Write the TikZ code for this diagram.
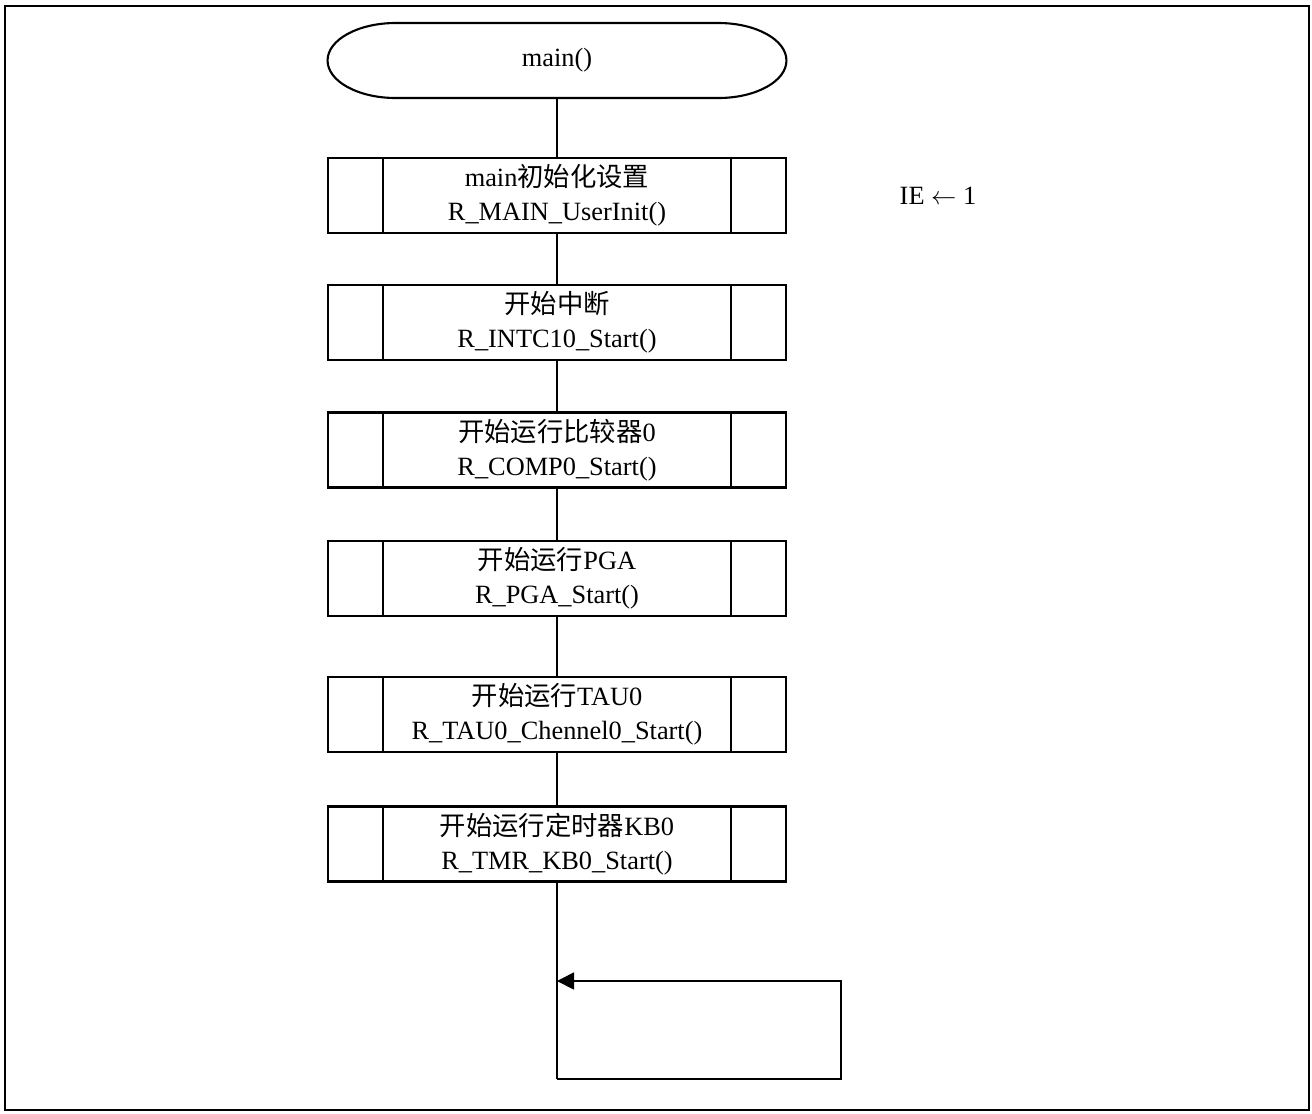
\documentclass[tikz,border=0pt]{standalone}
\usepackage{fontspec}
\setmainfont{Liberation Serif}
\newfontfamily\cjk{Noto Sans CJK SC}
\usetikzlibrary{arrows.meta}
\newcommand{\zh}[1]{{\cjk #1}}

\begin{document}
\begin{tikzpicture}[x=0.02cm, y=-0.02cm, line width=1.2pt, >={Triangle[length=0.34cm, width=0.34cm]},
  font=\fontsize{15}{19.5}\selectfont,
  term/.style={rectangle, outer sep=0pt, minimum width=9.18cm, minimum height=1.5cm},
  subproc/.style={draw, rectangle, minimum width=9.16cm, minimum height=1.5cm, align=center, inner sep=0pt,
    path picture={
      \draw ([xshift=1.1cm]path picture bounding box.north west) -- ([xshift=1.1cm]path picture bounding box.south west);
      \draw ([xshift=-1.1cm]path picture bounding box.north east) -- ([xshift=-1.1cm]path picture bounding box.south east);}}]
\useasboundingbox (0,0) rectangle (1312,1113);

% outer frame
\draw[line width=1.4pt] (5,6) rectangle (1309,1110);

% start terminal, flat oval ends
\node[term] (start) at (557,60.5) {main()};
\draw ([xshift=1.36cm]start.north west) -- ([xshift=-1.36cm]start.north east)
  arc[start angle=90, end angle=-90, x radius=1.36cm, y radius=0.75cm]
  -- ([xshift=1.36cm]start.south west)
  arc[start angle=270, end angle=90, x radius=1.36cm, y radius=0.75cm] -- cycle;

% one box per initialisation call
\node[subproc] (init) at (557,195.5) {main\zh{初始化设置}\\R\_MAIN\_UserInit()};
\node[subproc] (intc) at (557,322.5) {\zh{开始中断}\\R\_INTC10\_Start()};
\node[subproc] (comp) at (557,450) {\zh{开始运行比较器}0\\R\_COMP0\_Start()};
\node[subproc] (pga) at (557,578.5) {\zh{开始运行}PGA\\R\_PGA\_Start()};
\node[subproc] (tau) at (557,714.5) {\zh{开始运行}TAU0\\R\_TAU0\_Chennel0\_Start()};
\node[subproc] (tmkb) at (557,844) {\zh{开始运行定时器}KB0\\R\_TMR\_KB0\_Start()};

% side note
\node (ie) at (938,196) {IE $\leftarrow$ 1};

\draw (start) -- (init);
\draw (init) -- (intc);
\draw (intc) -- (comp);
\draw (comp) -- (pga);
\draw (pga) -- (tau);
\draw (tau) -- (tmkb);

% endless loop
\coordinate (lpbot) at (557,1079);
\coordinate (lpcorner) at (841,981);
\coordinate (lpin) at (557,981);
\draw (tmkb) -- (lpbot);
\draw[->, line width=1pt] (lpbot) -| (lpcorner) -- (lpin);
\end{tikzpicture}
\end{document}
